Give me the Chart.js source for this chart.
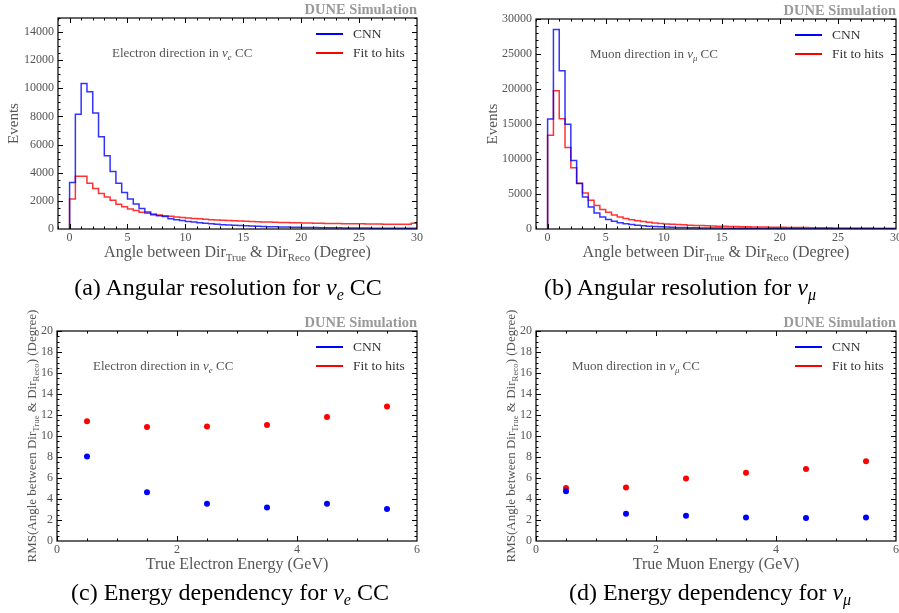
<!DOCTYPE html>
<html>
<head>
<meta charset="utf-8">
<script src="https://cdn.jsdelivr.net/npm/chart.js@4.4.1/dist/chart.umd.min.js"></script>
<style>
  body { margin: 0; background: #fff; }
  #page { position: relative; width: 899px; height: 613px; overflow: hidden; font-family: "Liberation Serif", serif; }
  #page canvas { position: absolute; }
  .caption { position: absolute; font-size: 24px; color: #000; transform: translate(-50%, -50%); white-space: nowrap; }
  .caption sub { font-size: 16px; }
</style>
</head>
<body>
<div id="page">
  <canvas id="chartA" width="440" height="305" style="left:0;top:0"></canvas>
  <canvas id="chartB" width="480" height="305" style="left:440px;top:0"></canvas>
  <canvas id="chartC" width="440" height="308" style="left:0;top:305px"></canvas>
  <canvas id="chartD" width="480" height="308" style="left:440px;top:305px"></canvas>
  <div class="caption" style="left:228px;top:289px">(a) Angular resolution for <i>ν<sub>e</sub></i> CC</div>
  <div class="caption" style="left:680px;top:289px">(b) Angular resolution for <i>ν<sub>μ</sub></i></div>
  <div class="caption" style="left:230px;top:594px">(c) Energy dependency for <i>ν<sub>e</sub></i> CC</div>
  <div class="caption" style="left:710px;top:594px">(d) Energy dependency for <i>ν<sub>μ</sub></i></div>
</div>
<script>
// bin edges of the angle histograms (degrees)
const binEdges = [
  0, 0.5, 1, 1.5, 2, 2.5, 3, 3.5, 4, 4.5, 5, 5.5, 6, 6.5, 7, 7.5, 8, 8.5, 9, 9.5,
  10, 10.5, 11, 11.5, 12, 12.5, 13, 13.5, 14, 14.5, 15, 15.5, 16, 16.5, 17, 17.5, 18, 18.5, 19, 19.5,
  20, 20.5, 21, 21.5, 22, 22.5, 23, 23.5, 24, 24.5, 25, 25.5, 26, 26.5, 27, 27.5, 28, 28.5, 29, 29.5, 30
];

// (a) electron direction in nu_e CC
const nueCnnCounts = [
  3300, 8150, 10350, 9750, 8250, 6550, 5200, 4080, 3250, 2600,
  2140, 1780, 1450, 1200, 1020, 950, 880, 720, 660, 600,
  540, 490, 445, 405, 370, 340, 310, 285, 262, 242,
  224, 208, 193, 180, 168, 157, 147, 138, 130, 122,
  115, 108, 102, 96, 91, 86, 82, 78, 74, 71,
  68, 65, 62, 60, 58, 56, 54, 52, 50, 48
];
const nueFitCounts = [
  2130, 3750, 3750, 3250, 2880, 2520, 2280, 2050, 1760, 1590,
  1430, 1310, 1190, 1120, 1070, 1000, 950, 900, 860, 820,
  780, 750, 720, 690, 665, 640, 620, 600, 580, 565,
  550, 535, 520, 505, 492, 480, 470, 460, 450, 440,
  430, 422, 414, 406, 398, 392, 386, 380, 375, 370,
  365, 360, 355, 350, 346, 342, 338, 334, 345, 400
];

// (b) muon direction in nu_mu CC
const numuCnnCounts = [
  15700, 28500, 22600, 14950, 9800, 6500, 4580, 3150, 2300, 1720,
  1340, 1100, 900, 750, 630, 540, 470, 410, 360, 320,
  285, 255, 230, 210, 190, 175, 160, 148, 137, 127,
  118, 110, 103, 96, 90, 85, 80, 75, 71, 67,
  63, 60, 57, 54, 51, 49, 47, 45, 43, 41,
  39, 38, 36, 35, 34, 33, 32, 31, 30, 29
];
const numuFitCounts = [
  13400, 19750, 15750, 11650, 8750, 6550, 5150, 4100, 3350, 2800,
  2380, 2000, 1720, 1500, 1330, 1180, 1060, 960, 870, 790,
  730, 680, 630, 590, 550, 515, 485, 455, 430, 405,
  385, 365, 345, 328, 312, 297, 283, 270, 258, 246,
  235, 225, 215, 206, 197, 189, 181, 174, 167, 160,
  154, 148, 142, 137, 132, 127, 122, 118, 114, 110
];

// (c), (d) RMS of the angle vs true energy
const energyBins = [0.5, 1.5, 2.5, 3.5, 4.5, 5.5];
const nueCnnRms = [8.05, 4.65, 3.55, 3.2, 3.55, 3.05];
const nueFitRms = [11.4, 10.85, 10.9, 11.05, 11.8, 12.8];
const numuCnnRms = [4.75, 2.6, 2.4, 2.25, 2.2, 2.25];
const numuFitRms = [5.05, 5.1, 5.95, 6.5, 6.85, 7.6];

// tick labels
const angleTicks = [0, 5, 10, 15, 20, 25, 30];
const nueEventTicks = [0, 2000, 4000, 6000, 8000, 10000, 12000, 14000];
const numuEventTicks = [0, 5000, 10000, 15000, 20000, 25000, 30000];
const energyTicks = [0, 2, 4, 6];
const rmsTicks = [0, 2, 4, 6, 8, 10, 12, 14, 16, 18, 20];

const FONT = '"Liberation Serif", serif';
const BLUE = "rgba(0, 0, 255, 0.8)";
const RED = "rgba(255, 0, 0, 0.8)";

// rich text: parts are [text, style] with style containing "it" and/or "sub"
function drawRich(ctx, parts, x, y, size, color, align) {
  const items = parts.map(([t, s = ""]) => {
    const sub = s.includes("sub");
    const it = s.includes("it");
    return { t, sub, font: `${it ? "italic " : ""}${sub ? size * 0.68 : size}px ${FONT}` };
  });
  let total = 0;
  items.forEach((p) => {
    ctx.font = p.font;
    p.w = ctx.measureText(p.t).width;
    total += p.w;
  });
  let cx = align === "center" ? x - total / 2 : align === "right" ? x - total : x;
  ctx.fillStyle = color;
  ctx.textBaseline = "middle";
  ctx.textAlign = "left";
  items.forEach((p) => {
    ctx.font = p.font;
    ctx.fillText(p.t, cx, y + (p.sub ? size * 0.3 : 0));
    cx += p.w;
  });
}

function minorValues(scale, step) {
  const vals = [];
  const start = Math.ceil(scale.min / step) * step;
  for (let v = start; v <= scale.max + 1e-9; v += step) vals.push(v);
  return vals;
}

// frame, inward ticks on all sides, and the texts of each panel
const decor = {
  id: "decor",
  afterDatasetsDraw(chart, args, o) {
    const { ctx, chartArea: a, scales } = chart;
    const xs = scales.x, ys = scales.y;
    ctx.save();
    ctx.strokeStyle = "#000";
    ctx.lineWidth = 1;
    const tick = (vals, len, isX) => {
      ctx.beginPath();
      vals.forEach((v) => {
        if (isX) {
          const px = Math.round(xs.getPixelForValue(v)) + 0.5;
          if (px < a.left || px > a.right) return;
          ctx.moveTo(px, a.bottom); ctx.lineTo(px, a.bottom - len);
          ctx.moveTo(px, a.top); ctx.lineTo(px, a.top + len);
        } else {
          const py = Math.round(ys.getPixelForValue(v)) + 0.5;
          if (py < a.top || py > a.bottom) return;
          ctx.moveTo(a.left, py); ctx.lineTo(a.left + len, py);
          ctx.moveTo(a.right, py); ctx.lineTo(a.right - len, py);
        }
      });
      ctx.stroke();
    };
    tick(minorValues(xs, o.minorX), 2.5, true);
    tick(minorValues(ys, o.minorY), 2.5, false);
    tick(xs.ticks.map((t) => t.value), 5, true);
    tick(ys.ticks.map((t) => t.value), 5, false);
    ctx.lineWidth = 1.2;
    ctx.strokeRect(a.left, a.top, a.right - a.left, a.bottom - a.top);
    ctx.restore();
  },
  afterDraw(chart, args, o) {
    const { ctx, chartArea: a } = chart;
    ctx.save();
    ctx.font = `bold 14.5px ${FONT}`;
    ctx.fillStyle = "#999";
    ctx.textAlign = "right";
    ctx.textBaseline = "middle";
    ctx.fillText("DUNE Simulation", a.right, a.top - 8);

    drawRich(ctx, o.note, a.left + o.noteX, a.top + 36, 13, "#555", "left");

    o.legend.forEach((item, i) => {
      const y = a.top + 16 + i * 19;
      ctx.strokeStyle = item.color;
      ctx.lineWidth = 2;
      ctx.beginPath();
      ctx.moveTo(a.right - 101, y);
      ctx.lineTo(a.right - 74, y);
      ctx.stroke();
      drawRich(ctx, [[item.label]], a.right - 64, y, 13.5, "#333", "left");
    });

    drawRich(ctx, o.xTitle, (a.left + a.right) / 2, a.bottom + 24, 16, "#555", "center");
    ctx.translate(o.yTitleX, (a.top + a.bottom) / 2);
    ctx.rotate(-Math.PI / 2);
    drawRich(ctx, o.yTitle, 0, 0, o.yTitleSize, "#555", "center");
    ctx.restore();
  },
};

function stepPoints(edges, counts) {
  const pts = [{ x: edges[0], y: 0 }];
  counts.forEach((c, i) => pts.push({ x: edges[i], y: c }));
  pts.push({ x: edges[edges.length - 1], y: counts[counts.length - 1] });
  pts.push({ x: edges[edges.length - 1], y: 0 });
  return pts;
}

function axis(min, max, tickValues, fitSize, isX) {
  return {
    type: "linear",
    min,
    max,
    grid: { display: false, drawTicks: false },
    border: { display: false },
    afterBuildTicks: (scale) => {
      scale.ticks = tickValues.map((v) => ({ value: v }));
    },
    afterFit: (scale) => {
      if (isX) scale.height = fitSize;
      else scale.width = fitSize;
    },
    ticks: {
      color: "#555",
      font: { family: FONT, size: 12 },
      padding: isX ? 2 : 4,
      maxRotation: 0,
      autoSkip: false,
      callback: (v) => String(v),
    },
  };
}

const angleTitle = [["Angle between Dir"], ["True", "sub"], [" & Dir"], ["Reco", "sub"], [" (Degree)"]];
const rmsTitle = [["RMS(Angle between Dir"], ["True", "sub"], [" & Dir"], ["Reco", "sub"], [") (Degree)"]];
const legendItems = [
  { label: "CNN", color: "#0000ff" },
  { label: "Fit to hits", color: "#ff0000" },
];

function histChart(id, cnn, fit, yMax, yTicks, minorY, pad, yWidth, note, yTitleX) {
  return new Chart(document.getElementById(id), {
    type: "line",
    data: {
      datasets: [
        { label: "CNN", data: stepPoints(binEdges, cnn), borderColor: BLUE },
        { label: "Fit to hits", data: stepPoints(binEdges, fit), borderColor: RED },
      ].map((d) => ({ ...d, stepped: true, borderWidth: 1.5, pointRadius: 0, fill: false, tension: 0 })),
    },
    options: {
      responsive: false,
      animation: false,
      events: [],
      layout: { padding: pad },
      scales: {
        x: axis(-1, 30, angleTicks, 30, true),
        y: axis(0, yMax, yTicks, yWidth, false),
      },
      plugins: {
        legend: { display: false },
        tooltip: { enabled: false },
        decor: {
          minorX: 1, minorY, note, noteX: 54, legend: legendItems,
          xTitle: angleTitle, yTitle: [["Events"]], yTitleX, yTitleSize: 15,
        },
      },
    },
    plugins: [decor],
  });
}

function rmsChart(id, cnn, fit, xTitle, pad, yWidth, note, yTitleX) {
  const pts = (vals) => energyBins.map((e, i) => ({ x: e, y: vals[i] }));
  return new Chart(document.getElementById(id), {
    type: "scatter",
    data: {
      datasets: [
        { label: "CNN", data: pts(cnn), backgroundColor: "#0000ff" },
        { label: "Fit to hits", data: pts(fit), backgroundColor: "#ff0000" },
      ].map((d) => ({ ...d, pointRadius: 3, borderWidth: 0 })),
    },
    options: {
      responsive: false,
      animation: false,
      events: [],
      layout: { padding: pad },
      scales: {
        x: axis(0, 6, energyTicks, 30, true),
        y: axis(0, 20, rmsTicks, yWidth, false),
      },
      plugins: {
        legend: { display: false },
        tooltip: { enabled: false },
        decor: {
          minorX: 0.5, minorY: 0.5, note, noteX: 36, legend: legendItems,
          xTitle, yTitle: rmsTitle, yTitleX, yTitleSize: 13,
        },
      },
    },
    plugins: [decor],
  });
}

histChart("chartA", nueCnnCounts, nueFitCounts, 15000, nueEventTicks, 500,
  { left: 8, right: 23, top: 18, bottom: 46 }, 50,
  [["Electron direction in "], ["ν", "it"], ["e", "itsub"], [" CC"]], 14);
histChart("chartB", numuCnnCounts, numuFitCounts, 30000, numuEventTicks, 1000,
  { left: 46, right: 24, top: 19, bottom: 46 }, 50,
  [["Muon direction in "], ["ν", "it"], ["μ", "itsub"], [" CC"]], 53);
rmsChart("chartC", nueCnnRms, nueFitRms, [["True Electron Energy (GeV)"]],
  { left: 7, right: 23, top: 26, bottom: 42 }, 50,
  [["Electron direction in "], ["ν", "it"], ["e", "itsub"], [" CC"]], 33);
rmsChart("chartD", numuCnnRms, numuFitRms, [["True Muon Energy (GeV)"]],
  { left: 46, right: 24, top: 26, bottom: 42 }, 50,
  [["Muon direction in "], ["ν", "it"], ["μ", "itsub"], [" CC"]], 72);
</script>
</body>
</html>
